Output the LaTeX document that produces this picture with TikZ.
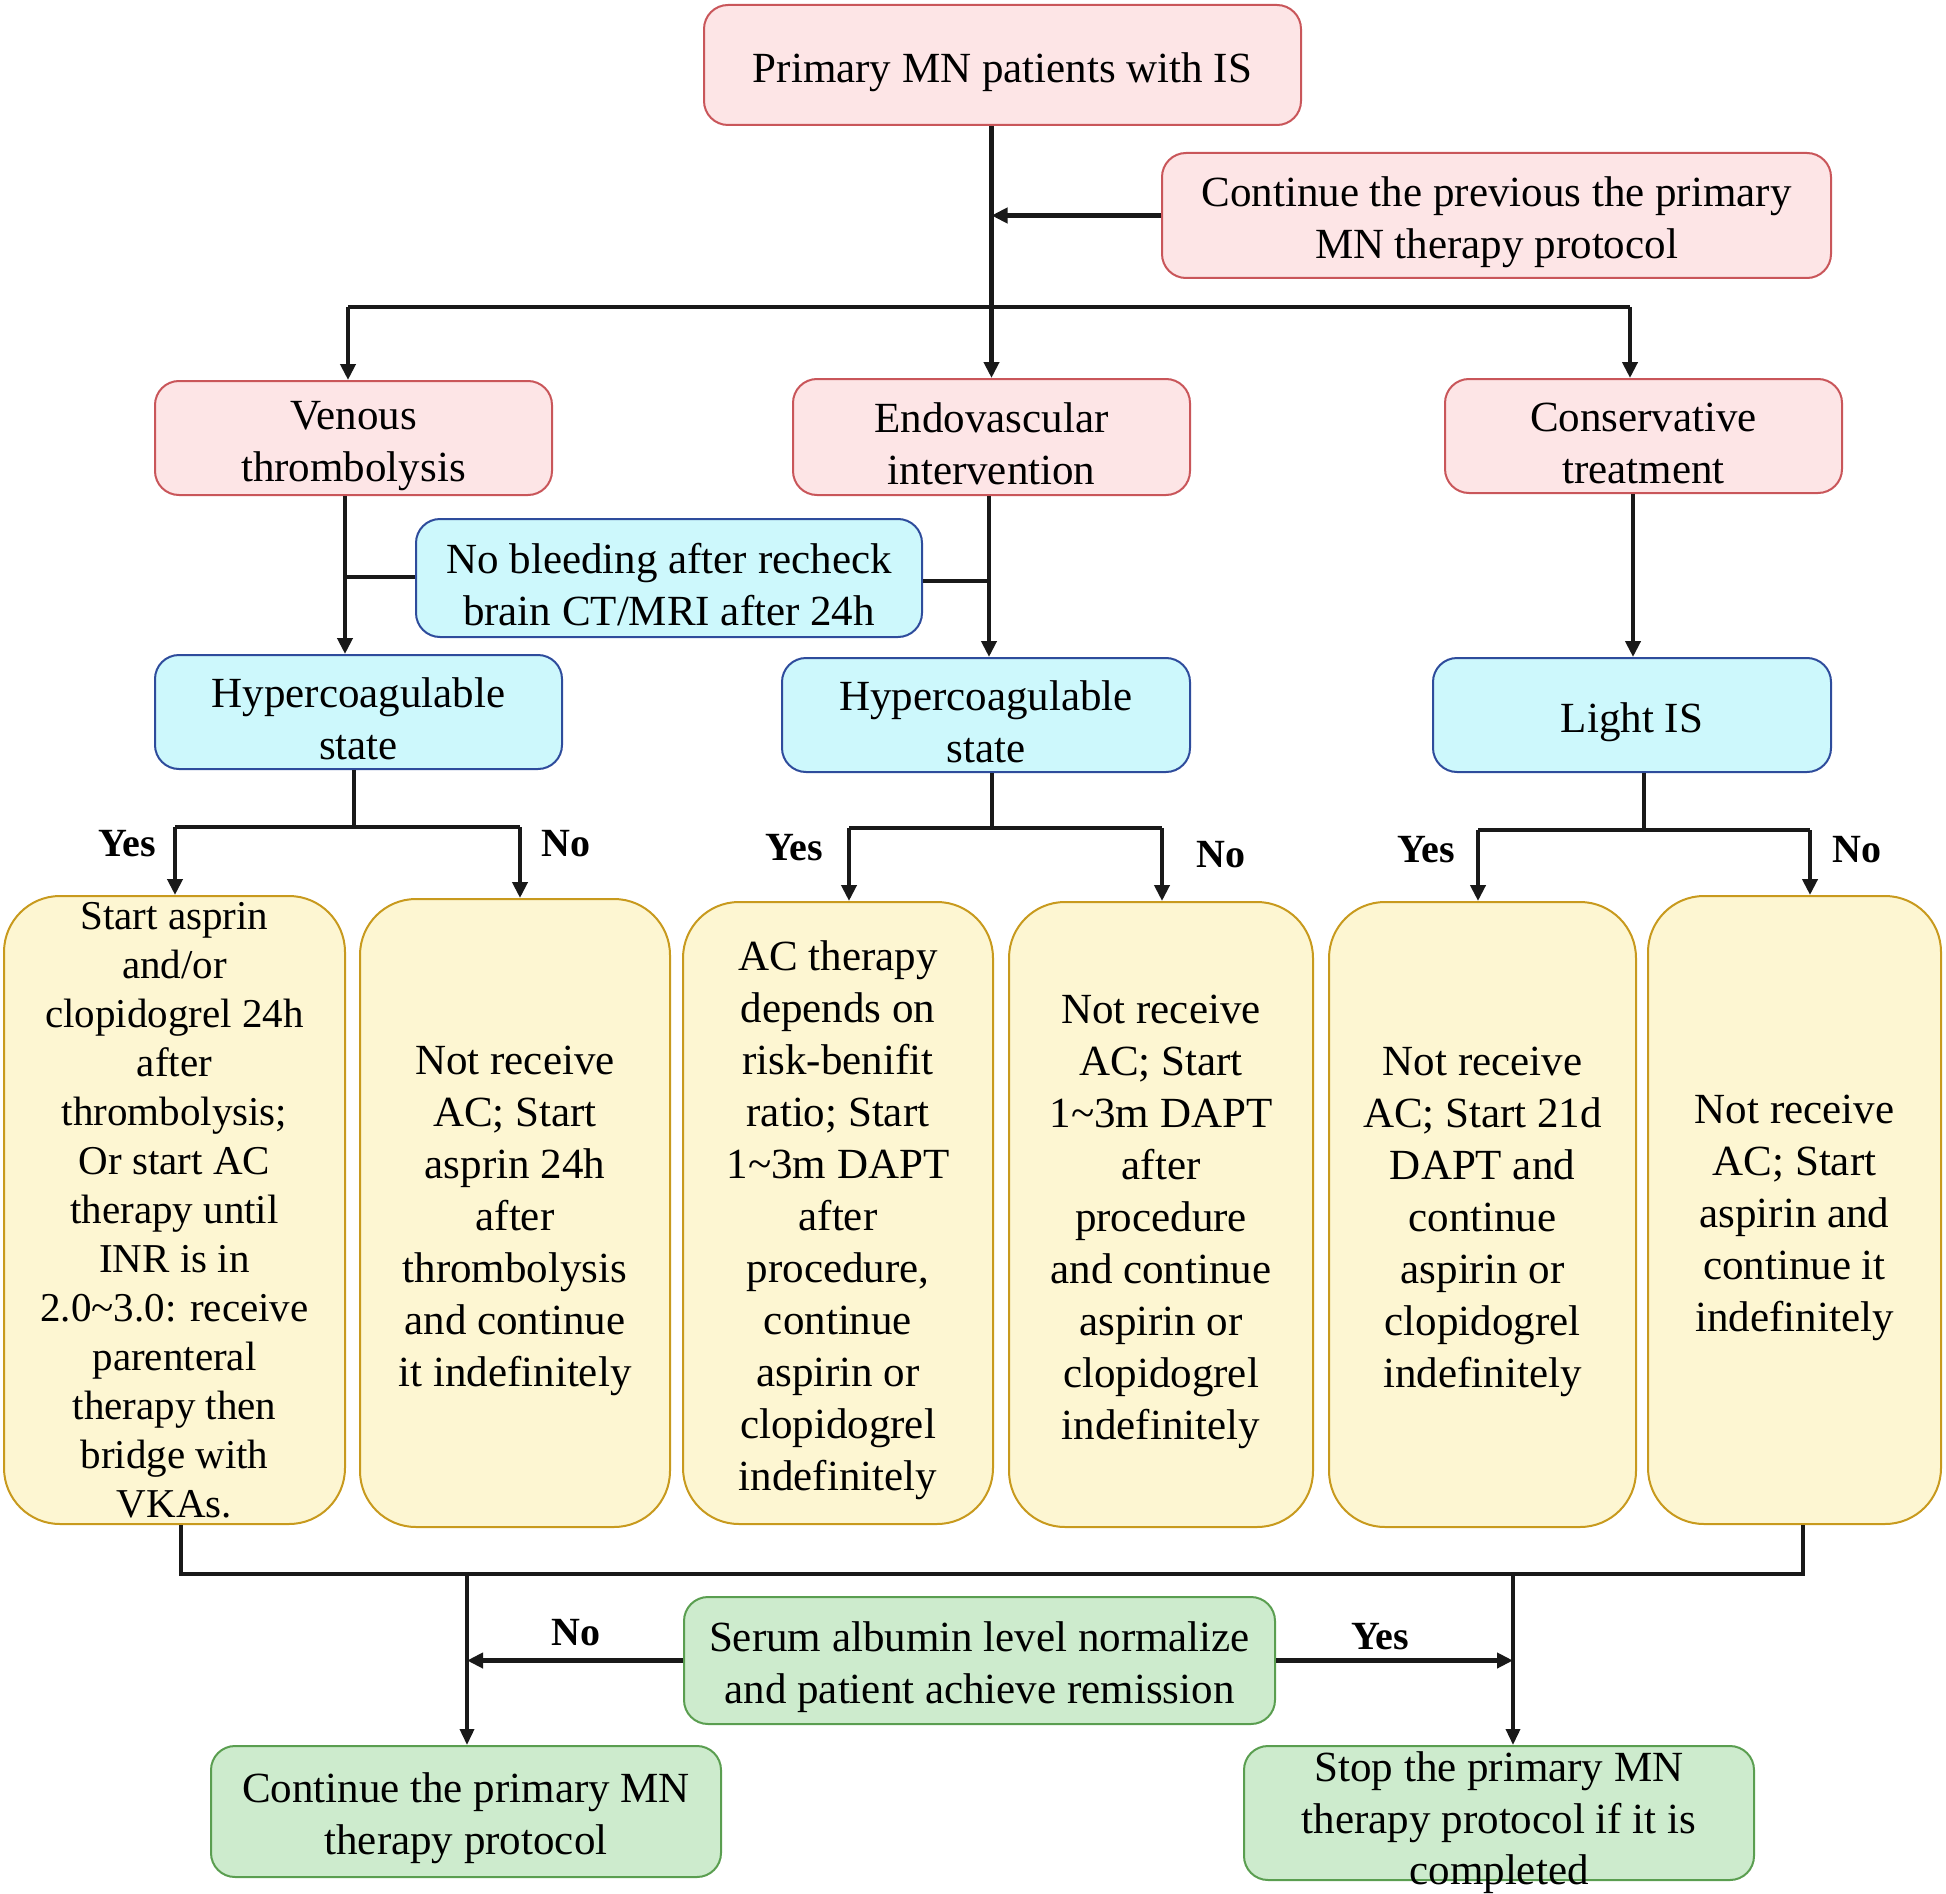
\documentclass[tikz,border=0pt]{standalone}
\usepackage{fontspec}
\setmainfont{Liberation Serif}
\usetikzlibrary{arrows.meta}
\definecolor{pinkF}{HTML}{FDE5E6}
\definecolor{pinkD}{HTML}{C9565A}
\definecolor{blueF}{HTML}{CDF8FC}
\definecolor{blueD}{HTML}{2E4C9C}
\definecolor{yelF}{HTML}{FDF6D2}
\definecolor{yelD}{HTML}{C89A1E}
\definecolor{grnF}{HTML}{CDEBCD}
\definecolor{grnD}{HTML}{5A9E50}
\newcommand{\fst}{\rule{0pt}{44pt}}
\tikzset{
  bx/.style={draw, line width=2pt, rounded corners=24pt, align=center, inner sep=0pt,
    font=\fontsize{43}{52}\selectfont},
  pinkbox/.style={bx, fill=pinkF, draw=pinkD},
  bluebox/.style={bx, fill=blueF, draw=blueD},
  yelbox/.style={bx, fill=yelF, draw=yelD, rounded corners=56pt},
  grnbox/.style={bx, fill=grnF, draw=grnD},
  overtext/.style={align=center, inner sep=0pt, font=\fontsize{43}{51.5}\selectfont, yshift=-3pt},
  ln/.style={line width=4.5pt, black!90},
  thinln/.style={line width=3.5pt, black!90},
  arr/.style={ln, -{Triangle[length=16pt,width=15pt]}},
  thinarr/.style={thinln, -{Triangle[length=16pt,width=14pt]}},
  lab/.style={font=\fontsize{40}{48}\selectfont\bfseries, inner sep=0pt},
}
\begin{document}
\begin{tikzpicture}[x=1pt,y=-1pt]
\useasboundingbox (0,0) rectangle (1946,1894);
% boxes
\node[pinkbox, minimum width=597, minimum height=120] (top) at (1002.5,65) {\fst Primary MN patients with IS};
\node[pinkbox, minimum width=669, minimum height=125] (cont) at (1496.5,215.5) {\fst Continue the previous the primary\\MN therapy protocol};
\node[pinkbox, minimum width=397, minimum height=114] (ven) at (353.5,438) {\fst Venous\\thrombolysis};
\node[pinkbox, minimum width=397, minimum height=116] (endo) at (991.5,437) {\fst Endovascular\\intervention};
\node[pinkbox, minimum width=397, minimum height=114] (cons) at (1643.5,436) {\fst Conservative\\treatment};
\node[bluebox, minimum width=506, minimum height=118] (nb) at (669,578) {\fst No bleeding after recheck\\brain CT/MRI after 24h};
\node[bluebox, minimum width=407, minimum height=114] (h1) at (358.5,712) {\fst Hypercoagulable\\state};
\node[bluebox, minimum width=408, minimum height=114] (h2) at (986,715) {\fst Hypercoagulable\\state};
\node[bluebox, minimum width=398, minimum height=114] (light) at (1632,715) {\fst Light IS};
\node[yelbox, minimum width=341, minimum height=628, font=\fontsize{41}{49}\selectfont] (y1) at (174.5,1210) {Start asprin\\and/or\\clopidogrel 24h\\after\\thrombolysis;\\Or start AC\\therapy until\\INR is in\\2.0\textasciitilde3.0: receive\\parenteral\\therapy then\\bridge with\\VKAs.};
\node[yelbox, minimum width=310, minimum height=628] (y2) at (515,1213) {\fst Not receive\\AC; Start\\asprin 24h\\after\\thrombolysis\\and continue\\it indefinitely};
\node[yelbox, minimum width=310, minimum height=622] (y3) at (838,1213) {\fst AC therapy\\depends on\\risk-benifit\\ratio; Start\\1\textasciitilde3m DAPT\\after\\procedure,\\continue\\aspirin or\\clopidogrel\\indefinitely};
\node[yelbox, minimum width=304, minimum height=625] (y4) at (1161,1214.5) {\fst Not receive\\AC; Start\\1\textasciitilde3m DAPT\\after\\procedure\\and continue\\aspirin or\\clopidogrel\\indefinitely};
\node[yelbox, minimum width=307, minimum height=625] (y5) at (1482.5,1214.5) {\fst Not receive\\AC; Start 21d\\DAPT and\\continue\\aspirin or\\clopidogrel\\indefinitely};
\node[yelbox, minimum width=293, minimum height=628] (y6) at (1794.5,1210) {\fst Not receive\\AC; Start\\aspirin and\\continue it\\indefinitely};
\node[grnbox, minimum width=591, minimum height=127] (serum) at (979.5,1660.5) {\fst Serum albumin level normalize\\and patient achieve remission};
\node[grnbox, minimum width=510, minimum height=131] (cb) at (466,1811.5) {\fst Continue the primary MN\\therapy protocol};
\node[grnbox, minimum width=510, minimum height=134,
  label={[overtext, name=stoptxt]center:\fst Stop the primary MN\\therapy protocol if it is\\completed}] (stop) at (1499,1813) {};
% top connectors
\coordinate (barL) at (348,307);
\coordinate (barR) at (1630,307);
\coordinate (barM) at (991.5,307);
\draw[arr] (barM |- top.south) -- (barM |- endo.north);
\draw[arr] (cont.west) -- (cont.west -| barM);
\draw[ln] (barL) -- (barR);
\draw[arr] (barL) -- (barL |- ven.north);
\draw[arr] (barR) -- (barR |- cons.north);
% second level
\coordinate (vx) at (345,577);
\coordinate (ex) at (989,581);
\draw[arr] (vx |- ven.south) -- (vx |- h1.north);
\draw[arr] (ex |- endo.south) -- (ex |- h2.north);
\draw[ln] (nb.west |- vx) -- (vx);
\draw[ln] (nb.east |- ex) -- (ex);
\coordinate (cx) at (1633,500);
\draw[arr] (cx |- cons.south) -- (cx |- light.north);
% branches
\coordinate (b1) at (354,827);
\coordinate (b1L) at (175,827);
\coordinate (b1R) at (520,827);
\draw[ln] (b1 |- h1.south) -- (b1);
\draw[ln] (b1L) -- (b1R);
\draw[arr] (b1L) -- (b1L |- y1.north);
\draw[arr] (b1R) -- (b1R |- y2.north);
\coordinate (b2) at (992,828);
\coordinate (b2L) at (849,828);
\coordinate (b2R) at (1162,828);
\draw[ln] (b2 |- h2.south) -- (b2);
\draw[ln] (b2L) -- (b2R);
\draw[arr] (b2L) -- (b2L |- y3.north);
\draw[arr] (b2R) -- (b2R |- y4.north);
\coordinate (b3) at (1644,830);
\coordinate (b3L) at (1478,830);
\coordinate (b3R) at (1810,830);
\draw[ln] (b3 |- light.south) -- (b3);
\draw[ln] (b3L) -- (b3R);
\draw[arr] (b3L) -- (b3L |- y5.north);
\draw[arr] (b3R) -- (b3R |- y6.north);
\node[lab] (ly1) at (127,844) {Yes};
\node[lab] (ln1) at (566,844) {No};
\node[lab] (ly2) at (794,848) {Yes};
\node[lab] (ln2) at (1221,855) {No};
\node[lab] (ly3) at (1426,850) {Yes};
\node[lab] (ln3) at (1857,850) {No};
% bottom
\coordinate (kL) at (181,1574);
\coordinate (kR) at (1803,1574);
\coordinate (kA) at (467,1574);
\coordinate (kB) at (1513,1574);
\draw[ln] (kL |- y1.south) -- (kL) -- (kR) -- (kR |- y6.south);
\draw[thinarr] (kA) -- (kA |- cb.north);
\draw[thinarr] (kB) -- (kB |- stop.north);
\draw[arr] (serum.west) -- (serum.west -| kA);
\draw[arr] (serum.east) -- (serum.east -| kB);
\node[lab] (lno) at (576,1633) {No};
\node[lab] (lyes) at (1380,1637) {Yes};
\end{tikzpicture}
\end{document}
